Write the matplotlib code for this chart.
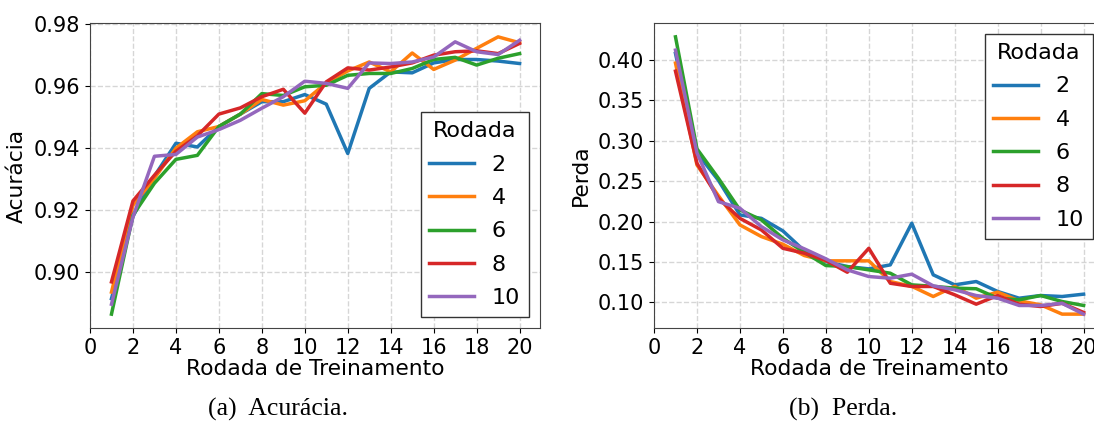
import matplotlib
matplotlib.use("Agg")
import matplotlib.pyplot as plt

rounds = list(range(1, 21))
legend_labels = ["2", "4", "6", "8", "10"]
colors = ["#1f77b4", "#ff7f0e", "#2ca02c", "#d62728", "#9467bd"]

acc_2 = [0.8915, 0.918, 0.931, 0.9416, 0.9404, 0.947, 0.951, 0.955, 0.955, 0.9573,
         0.9542, 0.9383, 0.9593, 0.9646, 0.9643, 0.9675, 0.9686, 0.9686, 0.9681, 0.9673]
acc_4 = [0.8936, 0.9216, 0.9303, 0.940, 0.9453, 0.947, 0.951, 0.9557, 0.9539, 0.9553,
         0.961, 0.9649, 0.9678, 0.9646, 0.9707, 0.9654, 0.9684, 0.9722, 0.9759, 0.974]
acc_6 = [0.8865, 0.9184, 0.9287, 0.9364, 0.9377, 0.947, 0.951, 0.9576, 0.957, 0.9598,
         0.9603, 0.9635, 0.9641, 0.9641, 0.9657, 0.9686, 0.9693, 0.9668, 0.969, 0.9705]
acc_8 = [0.8969, 0.923, 0.9313, 0.939, 0.944, 0.951, 0.953, 0.9566, 0.959, 0.9513,
         0.9614, 0.9659, 0.9652, 0.9662, 0.9675, 0.970, 0.9711, 0.9714, 0.9705, 0.9738]
acc_10 = [0.8897, 0.9178, 0.9374, 0.938, 0.9436, 0.946, 0.949, 0.9529, 0.9566, 0.9616,
          0.9609, 0.9593, 0.9675, 0.9673, 0.9678, 0.9694, 0.9743, 0.9711, 0.9702, 0.9748]

loss_2 = [0.408, 0.285, 0.251, 0.2083, 0.204, 0.1885, 0.1638, 0.1506, 0.1444, 0.1416,
          0.1465, 0.198, 0.1342, 0.1218, 0.1259, 0.1136, 0.1053, 0.1086, 0.1074, 0.1103]
loss_4 = [0.396, 0.270, 0.232, 0.1959, 0.1815, 0.172, 0.158, 0.1515, 0.1515, 0.1515,
          0.1259, 0.120, 0.1074, 0.120, 0.1053, 0.1128, 0.102, 0.0971, 0.0856, 0.0856]
loss_6 = [0.4284, 0.290, 0.2535, 0.2144, 0.2021, 0.1794, 0.162, 0.1457, 0.1444, 0.1403,
          0.1362, 0.1218, 0.120, 0.1177, 0.117, 0.1053, 0.1033, 0.1086, 0.1012, 0.0963]
loss_8 = [0.386, 0.272, 0.2288, 0.204, 0.1897, 0.167, 0.1609, 0.152, 0.1374, 0.167,
          0.1238, 0.1198, 0.1198, 0.1095, 0.0979, 0.1086, 0.0979, 0.095, 0.099, 0.0877]
loss_10 = [0.412, 0.285, 0.2247, 0.2165, 0.1938, 0.1774, 0.1663, 0.154, 0.1403, 0.1321,
           0.130, 0.135, 0.1206, 0.1157, 0.1086, 0.1053, 0.0963, 0.0963, 0.099, 0.0856]

acc_series = [acc_2, acc_4, acc_6, acc_8, acc_10]
loss_series = [loss_2, loss_4, loss_6, loss_8, loss_10]

FS = 15
LFS = 15.7
LEGFS = 16
fig = plt.figure(figsize=(10.94, 4.21), dpi=100)
ax1 = fig.add_axes([90/1094, 93/421, 450/1094, 305/421])
ax2 = fig.add_axes([654/1094, 93/421, 450/1094, 305/421])

def style(ax):
    ax.grid(True, linestyle="--", color="#cccccc", alpha=0.8, linewidth=1.0)
    ax.set_axisbelow(True)
    for s in ax.spines.values():
        s.set_color("#444444")
    ax.tick_params(labelsize=FS)
    ax.set_xticks(range(0, 21, 2))

for ser, c, lab in zip(acc_series, colors, legend_labels):
    ax1.plot(rounds, ser, color=c, lw=2.5, label=lab)
style(ax1)
ax1.set_yticks([0.90, 0.92, 0.94, 0.96, 0.98])
ax1.set_xlabel("Rodada de Treinamento", fontsize=LFS, labelpad=1)
ax1.set_ylabel("Acurácia", fontsize=LFS, labelpad=5)
leg1 = ax1.legend(title="Rodada", loc="lower right", fontsize=LEGFS, title_fontsize=LEGFS,
                  fancybox=False, framealpha=1, edgecolor="#333333", labelspacing=0.6)

for ser, c, lab in zip(loss_series, colors, legend_labels):
    ax2.plot(rounds, ser, color=c, lw=2.5, label=lab)
style(ax2)
ax2.set_yticks([0.10, 0.15, 0.20, 0.25, 0.30, 0.35, 0.40])
ax2.set_xlabel("Rodada de Treinamento", fontsize=LFS, labelpad=1)
ax2.set_ylabel("Perda", fontsize=LFS, labelpad=5)
leg2 = ax2.legend(title="Rodada", loc="upper right", fontsize=LEGFS, title_fontsize=LEGFS,
                  fancybox=False, framealpha=1, edgecolor="#333333", labelspacing=0.6)

fig.text(278/1094, 1 - 409/421, "(a)  Acurácia.", ha="center", va="center",
         fontsize=18.5, family="Liberation Serif")
fig.text(843/1094, 1 - 409/421, "(b)  Perda.", ha="center", va="center",
         fontsize=18.5, family="Liberation Serif")

fig.savefig("out.png", dpi=100)
